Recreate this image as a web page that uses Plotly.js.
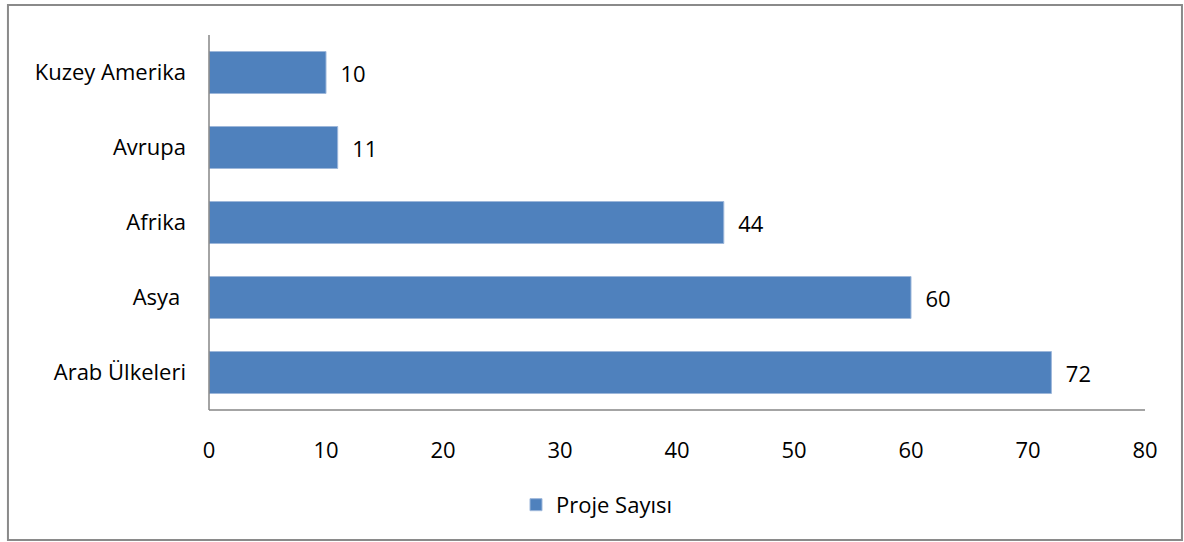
<!DOCTYPE html>
<html>
<head>
<meta charset="utf-8">
<script src="https://cdn.plot.ly/plotly-3.0.1.min.js"></script>
<style>html,body{margin:0;padding:0;background:#fff;}#chart{width:1184px;height:542px;}</style>
</head>
<body>
<div id="chart"></div>
<script>
const categories = ["Arab Ülkeleri", "Asya\u00a0", "Afrika", "Avrupa", "Kuzey Amerika"];
const values = [72, 60, 44, 11, 10];
const seriesName = "Proje Sayısı";
const xTicks = [0, 10, 20, 30, 40, 50, 60, 70, 80];

const font = {family: "'Open Sans', 'Noto Sans', sans-serif", size: 22, color: "#000"};

Plotly.newPlot("chart", [{
  type: "bar",
  orientation: "h",
  y: categories,
  x: values,
  name: seriesName,
  text: values.map(v => "\u00a0\u00a0" + v),
  textposition: "outside",
  cliponaxis: false,
  textfont: font,
  marker: {color: "#4F81BD", line: {color: "#9DB7DA", width: 1}},
  showlegend: true
}], {
  width: 1184, height: 542,
  margin: {l: 209, r: 39, t: 35, b: 132},
  paper_bgcolor: "#fff", plot_bgcolor: "#fff",
  font: font,
  bargap: 0.44,
  xaxis: {
    range: [0, 80], tickvals: xTicks, ticktext: xTicks.map(String),
    showgrid: false, zeroline: false, showline: false,
    ticks: "", ticklabelstandoff: 25, tickfont: font, fixedrange: true
  },
  yaxis: {
    showgrid: false, zeroline: false, showline: false,
    ticks: "", ticklabelstandoff: 22, tickfont: font, fixedrange: true
  },
  shapes: [
    {type: "line", xref: "paper", yref: "paper", x0: 0, x1: 0, y0: 0, y1: 1, line: {color: "#868686", width: 1.5}},
    {type: "line", xref: "paper", yref: "paper", x0: 0, x1: 1, y0: 0, y1: 0, line: {color: "#868686", width: 1.5}},
    {type: "rect", xref: "paper", yref: "paper", x0: -0.2148, x1: 1.0395, y0: -0.3467, y1: 1.08, line: {color: "#8A8A8A", width: 2}, fillcolor: "rgba(0,0,0,0)"}
  ],
  legend: {
    orientation: "h", x: 0.328, xanchor: "left", y: -0.253, yanchor: "middle",
    font: font, bgcolor: "rgba(0,0,0,0)", itemwidth: 30
  }
}, {displayModeBar: false, staticPlot: true});
</script>
</body>
</html>
